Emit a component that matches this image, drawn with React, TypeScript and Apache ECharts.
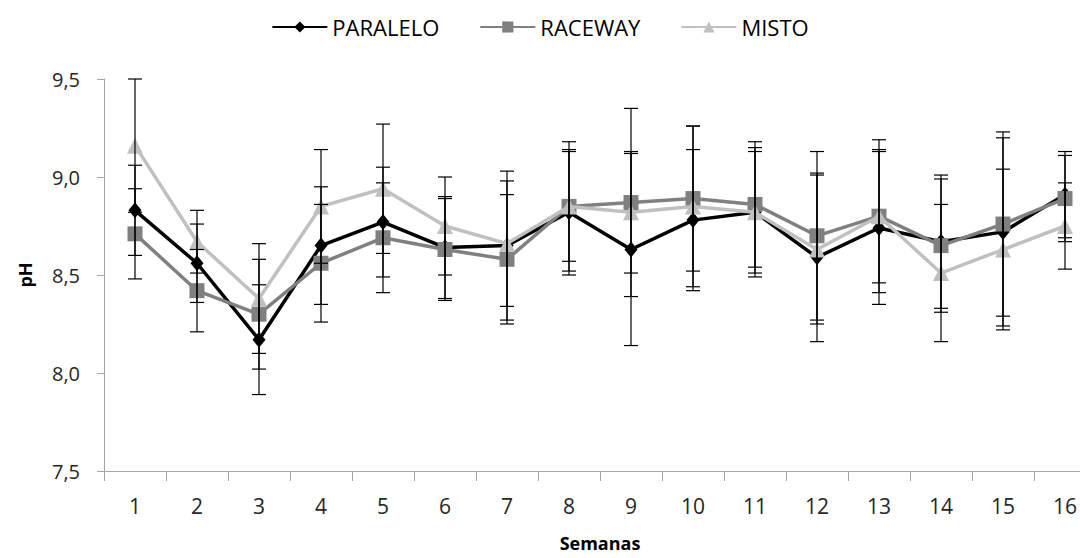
import React, { useEffect, useRef } from "react";
import * as echarts from "echarts";

const weeks = ["1", "2", "3", "4", "5", "6", "7", "8", "9", "10", "11", "12", "13", "14", "15", "16"];

const paraleloMean = [8.83, 8.56, 8.17, 8.65, 8.77, 8.64, 8.65, 8.82, 8.63, 8.78, 8.82, 8.59, 8.74, 8.67, 8.72, 8.91];
const paraleloErr = [0.23, 0.2, 0.28, 0.3, 0.28, 0.26, 0.38, 0.32, 0.49, 0.36, 0.33, 0.43, 0.39, 0.34, 0.48, 0.22];

const racewayMean = [8.71, 8.42, 8.3, 8.56, 8.69, 8.63, 8.58, 8.85, 8.87, 8.89, 8.86, 8.7, 8.8, 8.65, 8.76, 8.89];
const racewayErr = [0.23, 0.21, 0.28, 0.3, 0.28, 0.26, 0.33, 0.33, 0.48, 0.37, 0.32, 0.43, 0.39, 0.34, 0.47, 0.22];

const mistoMean = [9.16, 8.67, 8.38, 8.85, 8.94, 8.75, 8.66, 8.85, 8.82, 8.85, 8.82, 8.63, 8.8, 8.51, 8.63, 8.75];
const mistoErr = [0.34, 0.16, 0.28, 0.29, 0.33, 0.25, 0.32, 0.28, 0.31, 0.41, 0.31, 0.38, 0.34, 0.35, 0.41, 0.22];

const seriesNames = ["PARALELO", "RACEWAY", "MISTO"];
const seriesColors = ["#000000", "#808080", "#C0C0C0"];

const FONT = "'Open Sans', sans-serif";

function errData(mean: number[], err: number[]) {
  return mean.map((m, i) => [i, m - err[i], m + err[i]]);
}

function errorSeries(name: string, mean: number[], err: number[]) {
  return {
    type: "custom",
    name: name,
    z: 5,
    silent: true,
    encode: { x: 0, y: [1, 2] },
    data: errData(mean, err),
    renderItem: (params: any, api: any) => {
      const x = api.value(0);
      const lo = api.coord([x, api.value(1)]);
      const hi = api.coord([x, api.value(2)]);
      const hw = 7;
      const style = { stroke: "#000000", lineWidth: 1.2 };
      return {
        type: "group",
        children: [
          { type: "line", shape: { x1: hi[0], y1: hi[1], x2: lo[0], y2: lo[1] }, style },
          { type: "line", shape: { x1: hi[0] - hw, y1: hi[1], x2: hi[0] + hw, y2: hi[1] }, style },
          { type: "line", shape: { x1: lo[0] - hw, y1: lo[1], x2: lo[0] + hw, y2: lo[1] }, style },
        ],
      };
    },
  };
}

export default function App() {
  const ref = useRef<HTMLDivElement>(null);

  useEffect(() => {
    if (!ref.current) return;
    const chart = echarts.init(ref.current, null, { renderer: "svg" });
    const means = [paraleloMean, racewayMean, mistoMean];
    const symbols = ["diamond", "rect", "triangle"];
    const sizes = [[13, 16], 15, 16];

    const lineSeries = seriesNames.map((n, i) => ({
      type: "line",
      name: n,
      data: means[i],
      symbol: symbols[i],
      symbolSize: sizes[i],
      z: 2 + i * 0.1,
      lineStyle: { color: seriesColors[i], width: 3.5 },
      itemStyle: { color: seriesColors[i] },
    }));

    chart.setOption({
      animation: false,
      backgroundColor: "#ffffff",
      textStyle: { fontFamily: FONT },
      legend: {
        top: 11,
        left: "center",
        itemWidth: 55,
        itemHeight: 14,
        itemGap: 40,
        data: seriesNames,
        textStyle: { fontFamily: FONT, fontSize: 22, color: "#000000" },
      },
      grid: {
        left: 104,
        right: -16,
        top: 79,
        bottom: 87,
        containLabel: false,
        outerBoundsMode: "none",
      },
      xAxis: {
        type: "category",
        data: weeks,
        boundaryGap: true,
        name: "Semanas",
        nameLocation: "middle",
        nameGap: 63,
        nameTextStyle: { fontFamily: FONT, fontSize: 18, fontWeight: "bold", color: "#000000" },
        axisLine: { lineStyle: { color: "#A6A6A6", width: 1 } },
        axisTick: { show: true, length: 10, alignWithLabel: false, lineStyle: { color: "#A6A6A6" } },
        axisLabel: { fontFamily: FONT, fontSize: 21, color: "#262626", margin: 24 },
        splitLine: { show: false },
      },
      yAxis: {
        type: "value",
        min: 7.5,
        max: 9.5,
        interval: 0.5,
        name: "pH",
        nameLocation: "middle",
        nameGap: 70,
        nameRotate: 90,
        nameTextStyle: { fontFamily: FONT, fontSize: 18, fontWeight: "bold", color: "#000000" },
        axisLine: { show: true, lineStyle: { color: "#A6A6A6", width: 1 } },
        axisTick: { show: true, length: 7, inside: false, lineStyle: { color: "#A6A6A6" } },
        axisLabel: {
          fontFamily: FONT,
          fontSize: 20,
          color: "#262626",
          margin: 24,
          formatter: (v: number) => v.toFixed(1).replace(".", ","),
        },
        splitLine: { show: false },
      },
      series: [
        ...lineSeries,
        errorSeries("err-PARALELO", paraleloMean, paraleloErr),
        errorSeries("err-RACEWAY", racewayMean, racewayErr),
        errorSeries("err-MISTO", mistoMean, mistoErr),
      ],
    });
    return () => chart.dispose();
  }, []);

  return (
    <div
      ref={ref}
      style={{ position: "fixed", left: 0, top: 0, width: 1080, height: 558, background: "#fff" }}
    />
  );
}
